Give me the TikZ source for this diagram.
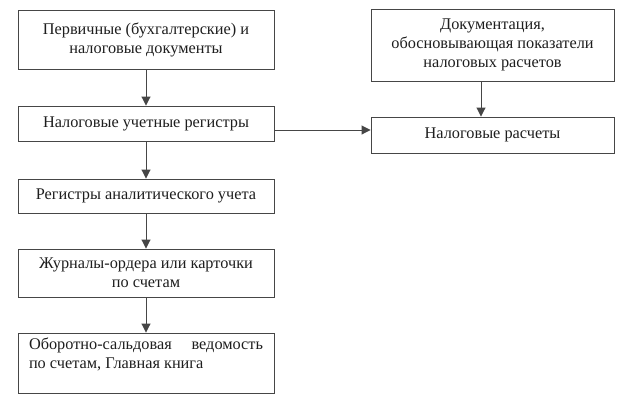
\documentclass[tikz,border=0pt]{standalone}
\usepackage{fontspec}
\setmainfont{Liberation Serif}
\usetikzlibrary{arrows.meta}
\definecolor{linegrey}{RGB}{70,70,70}
\definecolor{textgrey}{RGB}{30,30,30}
\begin{document}
\begin{tikzpicture}[x=1pt,y=-1pt,
  box/.style={draw=linegrey, line width=0.9pt, rectangle, inner sep=3pt, align=center, text=textgrey, font=\fontsize{16.3}{19}\selectfont},
  conn/.style={draw=linegrey, line width=0.9pt, -{Triangle[length=9pt,width=9pt]}}]
\useasboundingbox (0,0) rectangle (628,410);
\fill[white] (0,0) rectangle (628,410);
\node[box, minimum width=256, minimum height=59] (b1) at (146,39.5) {\raisebox{4pt}{\parbox{250pt}{\centering Первичные (бухгалтерские) и\\ налоговые документы}}};
\node[box, minimum width=256, minimum height=35] (b2) at (146,123.5) {Налоговые учетные регистры};
\node[box, minimum width=256, minimum height=34] (b3) at (146,196) {Регистры аналитического учета};
\node[box, minimum width=256, minimum height=48] (b4) at (146,273) {Журналы-ордера или карточки\\ по счетам};
\node[box, minimum width=256, minimum height=60, align=left] (b5) at (146,363) {\parbox[c][50pt][t]{234pt}{Оборотно-сальдовая\hfill ведомость\\ по счетам, Главная книга}};
\node[box, minimum width=243, minimum height=72] (b6) at (492.5,45) {Документация,\\ обосновывающая показатели\\ налоговых расчетов};
\node[box, minimum width=243, minimum height=36] (b7) at (492.5,135) {Налоговые расчеты};
\draw[conn] (b1.south) -- (b2.north);
\draw[conn] (b2.south) -- (b3.north);
\draw[conn] (b3.south) -- (b4.north);
\draw[conn] (b4.south) -- (b5.north);
\draw[conn] (b6.south -| 481,0) -- (b7.north -| 481,0);
\draw[conn] (b2.east |- 0,130) -- (b7.west |- 0,130);
\end{tikzpicture}
\end{document}
